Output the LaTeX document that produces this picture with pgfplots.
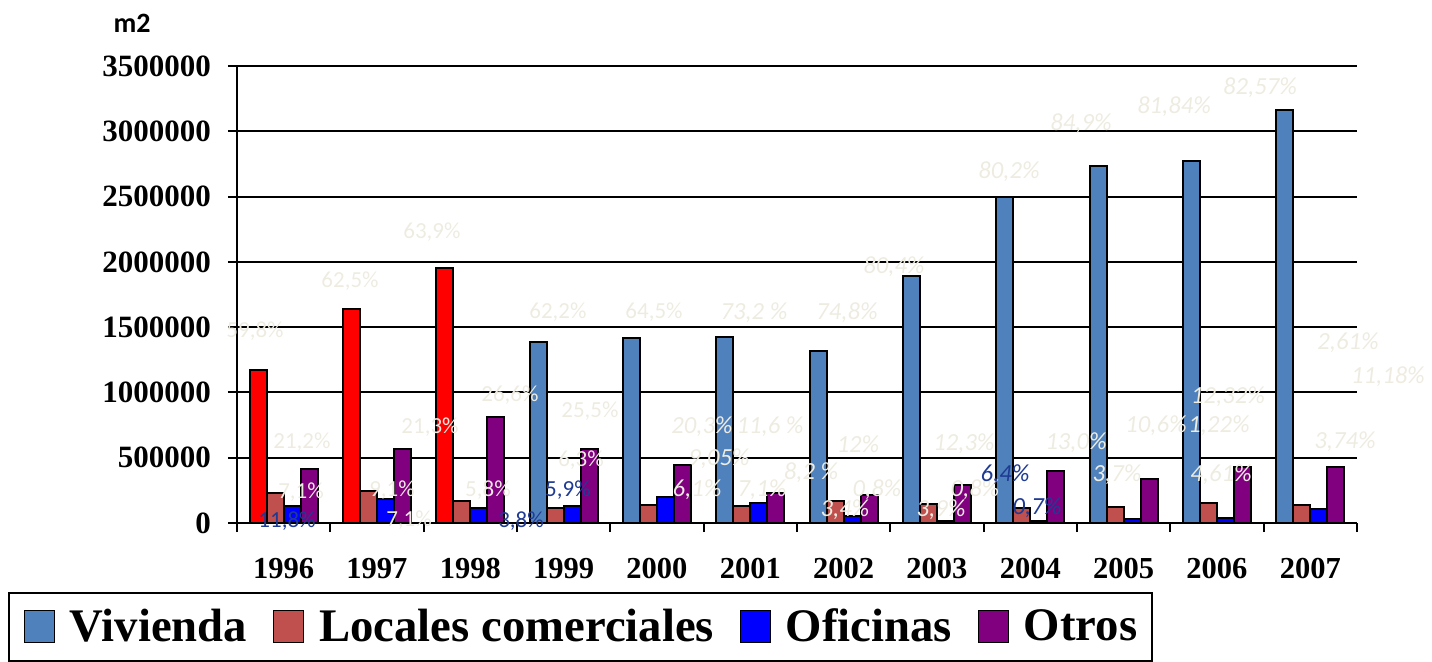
\documentclass[border=0pt]{standalone}
\usepackage{fontspec}
\setmainfont{Liberation Serif}
\newfontfamily\calfont{Carlito}
\usepackage{pgfplots}
\pgfplotsset{compat=1.18}
\definecolor{viv}{HTML}{4F81BD}
\definecolor{loc}{HTML}{C0504D}
\definecolor{ofi}{HTML}{0000FF}
\definecolor{otr}{HTML}{800080}
\definecolor{rojo}{HTML}{FF0000}
\definecolor{beige}{HTML}{EEECE1}
\definecolor{navy}{HTML}{1F3A93}
\pgfplotsset{
  sq legend/.style={legend image code/.code={\draw[##1,draw=black,line width=0.5pt,solid] (0pt,-8pt) rectangle (15pt,8pt);}},
}
\tikzset{
  pl/.style={font=\calfont\fontsize{11.5}{12}\selectfont, text=beige, inner sep=0pt},
  pi/.style={font=\calfont\itshape\fontsize{12.3}{13}\selectfont, text=beige, inner sep=0pt},
  pn/.style={font=\calfont\fontsize{11.5}{12}\selectfont, text=navy, inner sep=0pt},
  pni/.style={font=\calfont\itshape\fontsize{12.3}{13}\selectfont, text=navy, inner sep=0pt},
}
\begin{document}
\begin{tikzpicture}
\begin{axis}[
  at={(0,0)}, anchor=south west,
  width=560pt, height=228.5pt, scale only axis,
  xmin=-0.5, xmax=11.5, ymin=0, ymax=3500000,
  axis lines*=left, axis line style={line width=1pt},
  ybar, bar width=0.182,
  ytick={0,500000,...,3500000},
  scaled y ticks=false,
  yticklabel style={/pgf/number format/fixed, /pgf/number format/1000 sep={}, /pgf/number format/assume math mode=true, font=\bfseries\fontsize{15.5}{16}\selectfont, xshift=-5pt},
  ymajorgrids, grid style={black,line width=1pt},
  tick align=outside, major tick length=4.5pt, tick style={black,line width=1pt},
  xtick={-0.5,0.5,...,11.5}, xticklabels={},
  extra x ticks={0,1,2,3,4,5,6,7,8,9,10,11},
  extra x tick labels={1996,1997,1998,1999,2000,2001,2002,2003,2004,2005,2006,2007},
  extra x tick style={major tick length=0pt, xticklabel style={anchor=center, yshift=-22.75pt, font=\bfseries\fontsize{15.25}{16}\selectfont}},
  clip=false,
  legend columns=4,
  legend style={at={(-0.2045,-0.151)}, anchor=north west, draw=black, line width=1pt,
    font=\bfseries\fontsize{23.35}{24}\selectfont, inner xsep=7.5pt, inner ysep=8pt,
    nodes={inner sep=0pt},
    /tikz/every odd column/.style={column sep=7.5pt},
    /tikz/every even column/.style={column sep=13pt}},
  legend cell align=left,
]
\addplot[fill=rojo, draw=black, line width=0.9pt, bar shift=-0.273, forget plot] coordinates {(0,1169000) (1,1641000) (2,1953000)};
\addplot[fill=viv, draw=black, line width=0.9pt, bar shift=-0.273, sq legend] coordinates {(3,1384000) (4,1414000) (5,1427000) (6,1320000) (7,1892000) (8,2494000) (9,2734000) (10,2770000) (11,3165000)};
\addplot[fill=loc, draw=black, line width=0.9pt, bar shift=-0.091, sq legend] coordinates {(0,227000) (1,245000) (2,166000) (3,115000) (4,135000) (5,133000) (6,168000) (7,148000) (8,117000) (9,120000) (10,151000) (11,135000)};
\addplot[fill=ofi, draw=black, line width=0.9pt, bar shift=0.091, sq legend] coordinates {(0,130000) (1,181000) (2,117000) (3,133000) (4,197000) (5,151000) (6,56000) (7,18000) (8,15000) (9,31000) (10,41000) (11,105000)};
\addplot[fill=otr, draw=black, line width=0.9pt, bar shift=0.273, sq legend] coordinates {(0,411000) (1,567000) (2,814000) (3,567000) (4,444000) (5,230000) (6,212000) (7,291000) (8,398000) (9,335000) (10,431000) (11,427000)};
\legend{Vivienda,Locales comerciales,Oficinas,Otros}

\node[font=\calfont\bfseries\fontsize{14}{15}\selectfont] at (rel axis cs:-0.09375,1.094) {m2};

\node[pl] at (axis cs:-0.307,1470000) {59,8\%};
\node[pl] at (axis cs:0.711,1853000) {62,5\%};
\node[pl] at (axis cs:1.589,2229000) {63,9\%};
\node[pl] at (axis cs:2.939,1616000) {62,2\%};
\node[pl] at (axis cs:2.425,980000) {26,6\%};
\node[pl] at (axis cs:1.568,735000) {21,3\%};
\node[pl] at (axis cs:0.196,620000) {21,2\%};
\node[pl] at (axis cs:3.282,858000) {25,5\%};
\node[pl] at (axis cs:3.186,482000) {6,3\%};
\node[pl] at (axis cs:0.186,237000) {7,1\%};
\node[pl] at (axis cs:1.161,253000) {9,1\%};
\node[pl] at (axis cs:2.189,253000) {5,8\%};
\node[pn] at (axis cs:3.046,253000) {5,9\%};
\node[pn] at (axis cs:0.036,15000) {11,8\%};
\node[pl] at (axis cs:1.343,23000) {7,1\%};
\node[pn] at (axis cs:2.543,15000) {3,8\%};
\node[pl] at (axis cs:3.968,1616000) {64,5\%};
\node[pi] at (axis cs:5.039,1608000) {73,2 \%};
\node[pi] at (axis cs:6.036,1608000) {74,8\%};
\node[pi] at (axis cs:4.482,735000) {20,3\%};
\node[pi] at (axis cs:5.211,735000) {11,6 \%};
\node[pi] at (axis cs:4.664,490000) {9,05\%};
\node[pi] at (axis cs:6.154,605000) {12\%};
\node[pi] at (axis cs:5.650,383000) {8,2 \%};
\node[pi] at (axis cs:4.429,253000) {6,1\%};
\node[pi] at (axis cs:5.125,253000) {7,1\%};
\node[pi] at (axis cs:6.357,253000) {0,8\%};
\node[pi] at (axis cs:6.014,100000) {3,4\%};
\node[pi] at (axis cs:7.043,100000) {3,9\%};
\node[pi] at (axis cs:7.289,605000) {12,3\%};
\node[pi] at (axis cs:7.407,253000) {0,8\%};
\node[pni] at (axis cs:7.729,368000) {6,4\%};
\node[pni] at (axis cs:8.072,115000) {0,7\%};
\node[pi] at (axis cs:8.490,613000) {13,0\%};
\node[pi] at (axis cs:8.929,368000) {3,7\%};
\node[pi] at (axis cs:9.347,743000) {10,6\%};
\node[pi] at (axis cs:10.118,965000) {12,32\%};
\node[pi] at (axis cs:10.022,743000) {1,22\%};
\node[pi] at (axis cs:10.043,368000) {4,61\%};
\node[pi] at (axis cs:11.404,1379000) {2,61\%};
\node[pi] at (axis cs:11.832,1118000) {11,18\%};
\node[pi] at (axis cs:11.372,620000) {3,74\%};
\node[pi] at (axis cs:6.539,1961000) {80,4\%};
\node[pi] at (axis cs:7.772,2688000) {80,2\%};
\node[pi] at (axis cs:8.543,3056000) {84,9\%};
\node[pi] at (axis cs:9.540,3186000) {81,84\%};
\node[pi] at (axis cs:10.461,3331000) {82,57\%};
\end{axis}
\pgfresetboundingbox
\useasboundingbox (-118.5pt,-69pt) rectangle (597.5pt,261.5pt);
\end{tikzpicture}
\end{document}
